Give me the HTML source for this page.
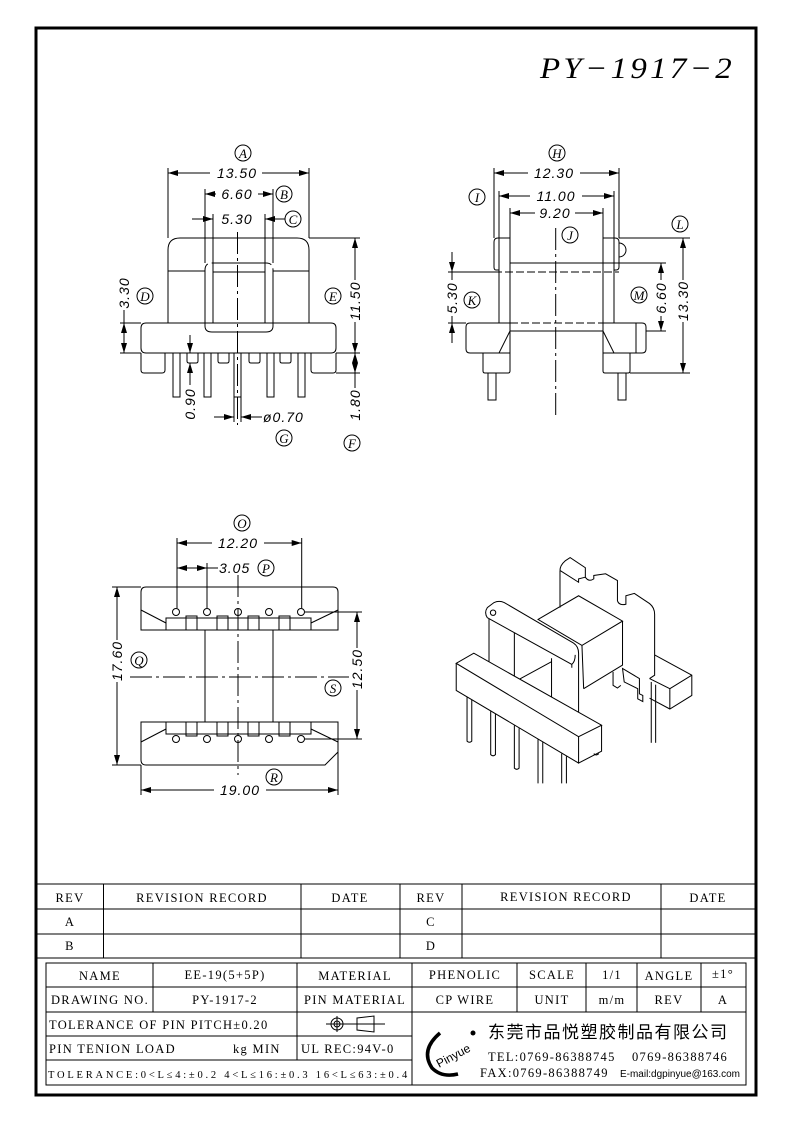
<!DOCTYPE html>
<html><head><meta charset="utf-8"><style>
html,body{margin:0;padding:0;background:#fff}
svg{display:block}
.d{font-family:"Liberation Sans",sans-serif;font-style:italic;font-size:14px;letter-spacing:1px}
.c{font-family:"Liberation Serif",serif;font-style:italic;font-size:13px}
.t{font-family:"Liberation Serif","Noto Serif CJK SC",serif;font-size:12.5px;letter-spacing:1.3px}
</style></head><body>
<svg width="793" height="1123" viewBox="0 0 793 1123" xmlns="http://www.w3.org/2000/svg">
<defs>
<marker id="a" viewBox="0 0 10 6" refX="10" refY="3" markerWidth="10" markerHeight="6" orient="auto-start-reverse" markerUnits="userSpaceOnUse"><path d="M0,0 L10,3 L0,6z" fill="#000"/></marker>
</defs>
<rect x="0" y="0" width="793" height="1123" fill="#fff"/>
<rect x="36" y="28" width="720" height="1067" fill="none" stroke="#000" stroke-width="3"/>
<text x="735" y="78" text-anchor="end" font-family="Liberation Serif,serif" font-style="italic" font-size="30" letter-spacing="3" textLength="195" lengthAdjust="spacingAndGlyphs">PY−1917−2</text>

<g fill="none" stroke="#000" stroke-width="1">
<!-- ===== FRONT VIEW ===== -->
<path d="M168,323 V250 Q168,238 180,238 H297 Q309,238 309,250 V323"/>
<line x1="168" y1="271" x2="205" y2="271"/><line x1="273" y1="271" x2="309" y2="271"/>
<path d="M146,323 H331 Q336,323 336,328 V348 Q336,353 331,353 H146 Q141,353 141,348 V328 Q141,323 146,323Z"/>
<path d="M141,353 V370 Q141,373 144,373 H162 Q165,373 165,370 V353"/>
<path d="M311,353 V370 Q311,373 314,373 H333 Q336,373 336,370 V353"/>
<rect x="173" y="353" width="7" height="44"/><rect x="204" y="353" width="7" height="44"/><rect x="234" y="353" width="7" height="44"/><rect x="267" y="353" width="7" height="44"/><rect x="298" y="353" width="7" height="44"/>
<path d="M187,353 V361 Q187,363 189,363 H196 Q198,363 198,361 V353"/>
<path d="M218,353 V361 Q218,363 220,363 H227 Q229,363 229,361 V353"/>
<path d="M249,353 V361 Q249,363 251,363 H258 Q260,363 260,361 V353"/>
<path d="M280,353 V361 Q280,363 282,363 H289 Q291,363 291,361 V353"/>
<path d="M205,323 V270 Q205,263 212,263 H266 Q273,263 273,270 V323" stroke-dasharray="60 4"/>
<path d="M205,323 V326 Q205,332 212,332 H266 Q273,332 273,326 V323"/>
<rect x="213" y="272" width="52" height="51"/>
<line x1="237.5" y1="232" x2="237.5" y2="425" stroke-dasharray="22 4 3 4"/>
<line x1="168" y1="168" x2="168" y2="238"/><line x1="309" y1="168" x2="309" y2="238"/>
<line x1="168" y1="173" x2="309" y2="173" marker-start="url(#a)" marker-end="url(#a)"/>
<line x1="205" y1="189" x2="205" y2="263"/><line x1="273" y1="189" x2="273" y2="263"/>
<line x1="205" y1="194" x2="273" y2="194" marker-start="url(#a)" marker-end="url(#a)"/>
<line x1="213" y1="214" x2="213" y2="272"/><line x1="265" y1="214" x2="265" y2="272"/>
<line x1="192" y1="219" x2="213" y2="219" marker-end="url(#a)"/><line x1="285" y1="219" x2="265" y2="219" marker-end="url(#a)"/>
<line x1="120" y1="323" x2="141" y2="323"/><line x1="120" y1="353" x2="141" y2="353"/>
<line x1="124" y1="323" x2="124" y2="353" marker-start="url(#a)" marker-end="url(#a)"/>
<line x1="124" y1="300" x2="124" y2="323"/>
<line x1="309" y1="238" x2="360" y2="238"/><line x1="336" y1="353" x2="360" y2="353"/><line x1="336" y1="373" x2="360" y2="373"/>
<line x1="355" y1="238" x2="355" y2="353" marker-start="url(#a)" marker-end="url(#a)"/>
<line x1="355" y1="353" x2="355" y2="373" marker-start="url(#a)" marker-end="url(#a)"/>
<line x1="355" y1="373" x2="355" y2="392"/>
<line x1="190" y1="335" x2="190" y2="353" marker-end="url(#a)"/><line x1="190" y1="385" x2="190" y2="363" marker-end="url(#a)"/>
<line x1="234" y1="397" x2="234" y2="422"/><line x1="241" y1="397" x2="241" y2="422"/>
<line x1="214" y1="417" x2="234" y2="417" marker-end="url(#a)"/><line x1="262" y1="417" x2="241" y2="417" marker-end="url(#a)"/>

<!-- ===== SIDE VIEW ===== -->
<path d="M499,270 H496 Q494,270 494,267 V242 Q494,238 498,238 H510"/>
<line x1="499" y1="238" x2="499" y2="323"/><line x1="510" y1="238" x2="510" y2="323"/>
<path d="M603,238 H615 Q619,238 619,242 V267 Q619,270 616,270 H614"/>
<line x1="603" y1="238" x2="603" y2="323"/><line x1="614" y1="238" x2="614" y2="323"/>
<path d="M619,243 A7,7 0 0 1 619,257"/>
<line x1="510" y1="263" x2="603" y2="263"/>
<line x1="494" y1="272" x2="619" y2="272" stroke-dasharray="8 3"/>
<line x1="510" y1="323" x2="603" y2="323" stroke-dasharray="8 3"/>
<line x1="510" y1="331" x2="603" y2="331"/>
<path d="M510,323 H470 Q466,323 466,327 V349 Q466,353 470,353 H510 Z"/>
<line x1="510" y1="331" x2="499" y2="353"/>
<path d="M603,323 H642 Q646,323 646,327 V349 Q646,353 642,353 H603 Z"/>
<line x1="603" y1="331" x2="614" y2="353"/>
<line x1="636" y1="323" x2="636" y2="353"/>
<path d="M483,353 V371 Q483,373 485,373 H508 Q510,373 510,371 V353"/>
<path d="M603,353 V371 Q603,373 605,373 H628 Q630,373 630,371 V353"/>
<rect x="488" y="373" width="8" height="27"/><rect x="618" y="373" width="8" height="27"/>
<line x1="555.7" y1="228" x2="555.7" y2="415" stroke-dasharray="22 4 3 4"/>
<line x1="494" y1="168" x2="494" y2="238"/><line x1="619" y1="168" x2="619" y2="238"/>
<line x1="494" y1="173" x2="619" y2="173" marker-start="url(#a)" marker-end="url(#a)"/>
<line x1="499" y1="191" x2="499" y2="238"/><line x1="614" y1="191" x2="614" y2="238"/>
<line x1="499" y1="196" x2="614" y2="196" marker-start="url(#a)" marker-end="url(#a)"/>
<line x1="510" y1="208" x2="510" y2="238"/><line x1="603" y1="208" x2="603" y2="238"/>
<line x1="510" y1="213" x2="603" y2="213" marker-start="url(#a)" marker-end="url(#a)"/>
<line x1="619" y1="238" x2="690" y2="238"/><line x1="630" y1="373" x2="690" y2="373"/>
<line x1="683" y1="238" x2="683" y2="373" marker-start="url(#a)" marker-end="url(#a)"/>
<line x1="603" y1="263" x2="666" y2="263"/><line x1="646" y1="331" x2="666" y2="331"/>
<line x1="661" y1="263" x2="661" y2="331" marker-start="url(#a)" marker-end="url(#a)"/>
<line x1="448" y1="272" x2="494" y2="272"/><line x1="448" y1="323" x2="466" y2="323"/>
<line x1="452" y1="252" x2="452" y2="272" marker-end="url(#a)"/><line x1="452" y1="343" x2="452" y2="323" marker-end="url(#a)"/>
<line x1="452" y1="272" x2="452" y2="323"/>

<!-- ===== BOTTOM VIEW ===== -->
<path d="M141,630 V592 Q141,587 146,587 H333 Q338,587 338,592 V630 Z"/>
<line x1="141" y1="610" x2="166" y2="623"/><line x1="338" y1="610" x2="311" y2="623"/>
<rect x="166" y="618" width="145" height="12"/>
<rect x="186" y="616" width="11" height="14"/><rect x="217" y="616" width="11" height="14"/><rect x="248" y="616" width="11" height="14"/><rect x="279" y="616" width="11" height="14"/>
<circle cx="176" cy="612" r="3.5"/><circle cx="207" cy="612" r="3.5"/><circle cx="238" cy="612" r="3.5"/><circle cx="269" cy="612" r="3.5"/><circle cx="301" cy="612" r="3.5"/>
<line x1="205" y1="630" x2="205" y2="722"/><line x1="273" y1="630" x2="273" y2="722"/>
<path d="M141,722 H338 V752 L325,765 H146 Q141,765 141,760 Z"/>
<line x1="141" y1="742" x2="166" y2="729"/><line x1="338" y1="742" x2="311" y2="729"/>
<rect x="166" y="722" width="145" height="12"/>
<rect x="186" y="722" width="11" height="14"/><rect x="217" y="722" width="11" height="14"/><rect x="248" y="722" width="11" height="14"/><rect x="279" y="722" width="11" height="14"/>
<circle cx="176" cy="739" r="3.5"/><circle cx="207" cy="739" r="3.5"/><circle cx="238" cy="739" r="3.5"/><circle cx="269" cy="739" r="3.5"/><circle cx="301" cy="739" r="3.5"/>
<line x1="130" y1="677" x2="350" y2="677" stroke-dasharray="22 4 3 4"/>
<line x1="238" y1="575" x2="238" y2="775" stroke-dasharray="22 4 3 4"/>
<line x1="177" y1="538" x2="177" y2="608"/><line x1="301.7" y1="538" x2="301.7" y2="608"/>
<line x1="177" y1="543" x2="301.7" y2="543" marker-start="url(#a)" marker-end="url(#a)"/>
<line x1="207" y1="563" x2="207" y2="608"/>
<line x1="177" y1="568" x2="207" y2="568" marker-start="url(#a)" marker-end="url(#a)"/>
<line x1="207" y1="568" x2="218" y2="568"/>
<line x1="112" y1="587" x2="141" y2="587"/><line x1="112" y1="765" x2="141" y2="765"/>
<line x1="117" y1="587" x2="117" y2="765" marker-start="url(#a)" marker-end="url(#a)"/>
<line x1="305" y1="612" x2="362" y2="612"/><line x1="305" y1="739" x2="362" y2="739"/>
<line x1="357" y1="612" x2="357" y2="739" marker-start="url(#a)" marker-end="url(#a)"/>
<line x1="141" y1="765" x2="141" y2="795"/><line x1="338" y1="752" x2="338" y2="795"/>
<line x1="141" y1="790" x2="338" y2="790" marker-start="url(#a)" marker-end="url(#a)"/>
</g>

<g fill="#fff">
<rect x="210" y="165" width="52" height="16"/><rect x="216" y="186" width="42" height="16"/><rect x="217" y="211" width="40" height="16"/>
<rect x="347" y="280" width="16" height="42"/><rect x="347" y="388" width="16" height="34"/><rect x="116" y="276" width="16" height="34"/>
<rect x="528" y="165" width="52" height="16"/><rect x="530" y="188" width="52" height="16"/><rect x="535" y="205" width="40" height="16"/>
<rect x="675" y="280" width="16" height="42"/><rect x="653" y="280" width="16" height="36"/><rect x="444" y="280" width="16" height="36"/>
<rect x="212" y="535" width="52" height="16"/><rect x="214" y="782" width="52" height="16"/>
<rect x="109" y="640" width="16" height="42"/><rect x="349" y="648" width="16" height="42"/>
</g>
<g class="d">
<text x="237" y="178" text-anchor="middle">13.50</text>
<text x="237" y="199" text-anchor="middle">6.60</text>
<text x="237" y="224" text-anchor="middle">5.30</text>
<text transform="translate(360,301) rotate(-90)" text-anchor="middle">11.50</text>
<text transform="translate(360,405) rotate(-90)" text-anchor="middle">1.80</text>
<text transform="translate(129,293) rotate(-90)" text-anchor="middle">3.30</text>
<text transform="translate(195,404) rotate(-90)" text-anchor="middle">0.90</text>
<text x="263" y="422">ø0.70</text>
<text x="554" y="178" text-anchor="middle">12.30</text>
<text x="556" y="201" text-anchor="middle">11.00</text>
<text x="555" y="218" text-anchor="middle">9.20</text>
<text transform="translate(688,301) rotate(-90)" text-anchor="middle">13.30</text>
<text transform="translate(666,298) rotate(-90)" text-anchor="middle">6.60</text>
<text transform="translate(457,298) rotate(-90)" text-anchor="middle">5.30</text>
<text x="238" y="548" text-anchor="middle">12.20</text>
<text x="219" y="573">3.05</text>
<text transform="translate(122,661) rotate(-90)" text-anchor="middle">17.60</text>
<text transform="translate(362,669) rotate(-90)" text-anchor="middle">12.50</text>
<text x="240" y="795" text-anchor="middle">19.00</text>
</g>
<g fill="#fff" stroke="#000" stroke-width="1">
<circle cx="243" cy="153" r="8"/><circle cx="284" cy="194" r="8"/><circle cx="293" cy="219" r="8"/><circle cx="145" cy="296" r="8"/><circle cx="333" cy="296" r="8"/><circle cx="352" cy="443" r="8"/><circle cx="284" cy="438" r="8"/>
<circle cx="557" cy="153" r="8"/><circle cx="477" cy="197" r="8"/><circle cx="570" cy="235" r="8"/><circle cx="680" cy="224" r="8"/><circle cx="639" cy="295" r="8"/><circle cx="472" cy="300" r="8"/>
<circle cx="242" cy="523" r="8"/><circle cx="266" cy="568" r="8"/><circle cx="139" cy="660" r="8"/><circle cx="333" cy="688" r="8"/><circle cx="274" cy="777" r="8"/>
</g>
<g class="c" text-anchor="middle">
<text x="243" y="158">A</text><text x="284" y="199">B</text><text x="293" y="224">C</text><text x="145" y="301">D</text><text x="333" y="301">E</text><text x="352" y="448">F</text><text x="284" y="443">G</text>
<text x="557" y="158">H</text><text x="477" y="202">I</text><text x="570" y="240">J</text><text x="680" y="229">L</text><text x="639" y="300">M</text><text x="472" y="305">K</text>
<text x="242" y="528">O</text><text x="266" y="573">P</text><text x="139" y="665">Q</text><text x="333" y="693">S</text><text x="274" y="782">R</text>
</g>

<!-- ===== ISOMETRIC ===== -->
<g transform="translate(440,540) scale(0.338)" fill="none" stroke="#000" stroke-width="3">
<path d="M355,90 Q355,75 370,62 L385,52 L430,82 L430,110 Q440,125 455,115 L455,105 L490,100 L525,120 L525,180 Q530,195 550,190 L550,165 L575,158 L620,188 Q635,200 635,220 L635,400 L620,410"/>
<path d="M355,90 L410,125 L410,115 L430,110"/>
<line x1="355" y1="90" x2="355" y2="200"/>
<path d="M635,340 L745,400 L745,460 L680,500 L620,468"/>
<path d="M680,440 L745,400 M680,440 L680,500 M620,410 L680,440"/>
<path d="M540,380 L545,420 L585,440 L585,470 L600,478 L600,460 L590,455 L590,410 Z"/>
<line x1="625" y1="420" x2="625" y2="600"/><line x1="638" y1="428" x2="638" y2="600"/>
<path d="M512,390 L512,430 L525,438 L535,430"/>
<path d="M290,235 L410,165 L540,240 L420,312 Z"/>
<path d="M420,312 L425,440 M540,240 L540,370 L425,440"/>
<path d="M140,230 Q130,215 140,200 L160,185 Q175,178 190,185 L395,305 Q410,315 410,335 L410,525 L330,485 L330,350"/>
<path d="M140,230 L390,368 L390,378 M390,368 Q400,360 400,340"/>
<circle cx="157" cy="215" r="8"/>
<path d="M145,232 L145,385 L220,420 L220,275 M220,420 L330,360"/>
<path d="M48,365 L100,335 L478,548 L410,582 Z" fill="#fff"/>
<path d="M48,365 L48,445 L410,660 L410,582 M410,660 L478,625 L478,548"/>
<path d="M80,465 L80,595 Q87,602 94,595 L94,473"/>
<path d="M150,507 L150,635 Q157,642 164,635 L164,515"/>
<path d="M220,549 L220,675 Q227,682 234,675 L234,557"/>
<path d="M290,590 L290,720 M304,598 L304,720"/>
<path d="M360,632 L360,720 M374,640 L374,720"/>
<path d="M455,632 Q462,640 470,632"/>
</g>

<!-- ===== TITLE BLOCK ===== -->
<g fill="none" stroke="#000" stroke-width="1">
<line x1="36" y1="884" x2="756" y2="884"/><line x1="36" y1="909" x2="756" y2="909"/><line x1="36" y1="934" x2="756" y2="934"/><line x1="36" y1="958" x2="756" y2="958"/>
<line x1="103.5" y1="884" x2="103.5" y2="958"/><line x1="301" y1="884" x2="301" y2="958"/><line x1="400" y1="884" x2="400" y2="958"/><line x1="462" y1="884" x2="462" y2="958"/><line x1="661" y1="884" x2="661" y2="958"/>
<rect x="46" y="963" width="700" height="122"/>
<line x1="46" y1="987" x2="746" y2="987"/><line x1="46" y1="1012" x2="746" y2="1012"/>
<line x1="46" y1="1036" x2="412" y2="1036"/><line x1="46" y1="1060" x2="412" y2="1060"/>
<line x1="153" y1="963" x2="153" y2="1012"/><line x1="297" y1="963" x2="297" y2="1060"/><line x1="412" y1="963" x2="412" y2="1085"/>
<line x1="517" y1="963" x2="517" y2="1012"/><line x1="586" y1="963" x2="586" y2="1012"/><line x1="637" y1="963" x2="637" y2="1012"/><line x1="701" y1="963" x2="701" y2="1012"/>
<circle cx="337" cy="1024" r="6"/><circle cx="337" cy="1024" r="3"/><line x1="326" y1="1024" x2="385" y2="1024"/><line x1="337" y1="1016" x2="337" y2="1032"/>
<path d="M357,1018 L374,1016 L374,1032 L357,1030 Z"/>
<path d="M440,1033 Q420,1050 432,1068 Q442,1078 458,1074" stroke-width="3.5"/>
</g>
<circle cx="473" cy="1033" r="2.5" fill="#000"/>
<text transform="translate(439,1068) rotate(-28)" font-family="Liberation Sans,sans-serif" font-size="12">Pinyue</text>
<g class="t" text-anchor="middle">
<text x="70" y="902">REV</text><text x="202" y="902">REVISION RECORD</text><text x="350" y="902">DATE</text><text x="431" y="902">REV</text><text x="566" y="901">REVISION RECORD</text><text x="708" y="902">DATE</text>
<text x="70" y="926">A</text><text x="431" y="926">C</text><text x="70" y="950">B</text><text x="431" y="950">D</text>
<text x="100" y="980">NAME</text><text x="225" y="979">EE-19(5+5P)</text><text x="355" y="980">MATERIAL</text><text x="465" y="979">PHENOLIC</text><text x="552" y="979">SCALE</text><text x="612" y="979">1/1</text><text x="669" y="980">ANGLE</text><text x="723" y="978">±1°</text>
<text x="100" y="1004">DRAWING NO.</text><text x="225" y="1004">PY-1917-2</text><text x="355" y="1004">PIN MATERIAL</text><text x="465" y="1004">CP WIRE</text><text x="552" y="1004">UNIT</text><text x="612" y="1004">m/m</text><text x="669" y="1004">REV</text><text x="723" y="1004">A</text>
</g>
<g class="t">
<text x="49" y="1029">TOLERANCE OF PIN PITCH±0.20</text>
<text x="49" y="1053">PIN TENION LOAD</text><text x="233" y="1053">kg MIN</text>
<text x="301" y="1053">UL REC:94V-0</text>
<text x="48" y="1078" font-size="10.5" letter-spacing="0.8" textLength="360" lengthAdjust="spacing">TOLERANCE:0&lt;L≤4:±0.2  4&lt;L≤16:±0.3  16&lt;L≤63:±0.4</text>
</g>
<text x="488" y="1038" font-family="Liberation Sans,'Noto Sans CJK SC',sans-serif" font-size="17" letter-spacing="1.5">东莞市品悦塑胶制品有限公司</text>
<g class="t" font-size="11" letter-spacing="1.5">
<text x="488" y="1061">TEL:0769-86388745</text><text x="632" y="1061">0769-86388746</text>
<text x="480" y="1077">FAX:0769-86388749</text>
<text x="620" y="1077" letter-spacing="0" font-family="Liberation Sans,sans-serif" font-size="10" textLength="120" lengthAdjust="spacingAndGlyphs">E-mail:dgpinyue@163.com</text>
</g>
</svg>
</body></html>
